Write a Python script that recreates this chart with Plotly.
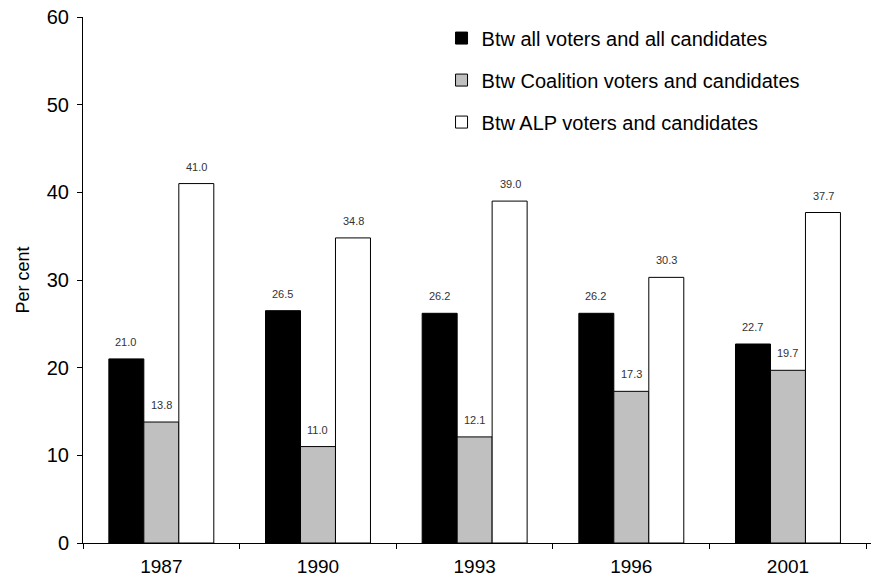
import plotly.graph_objects as go

years = ["1987", "1990", "1993", "1996", "2001"]
all_voters = [21.0, 26.5, 26.2, 26.2, 22.7]
coalition = [13.8, 11.0, 12.1, 17.3, 19.7]
alp = [41.0, 34.8, 39.0, 30.3, 37.7]

series = [
    ("Btw all voters and all candidates", all_voters, "#000000"),
    ("Btw Coalition voters and candidates", coalition, "#c0c0c0"),
    ("Btw ALP voters and candidates", alp, "#ffffff"),
]

fig = go.Figure()
for i, (name, vals, color) in enumerate(series):
    fig.add_trace(go.Bar(
        x=years, y=vals, name=name, legendgroup=f"g{i}",
        marker=dict(color=color, line=dict(color="#000000", width=1)),
    ))

# value labels above each bar (x given as category index)
n = len(series)
for i, (name, vals, color) in enumerate(series):
    for j, v in enumerate(vals):
        fig.add_annotation(
            x=j, y=v, text=f"{v:.1f}", showarrow=False,
            xref="x", yref="y", yanchor="bottom", yshift=9,
            xshift=(i - (n - 1) / 2) * 35.5,
            font=dict(family="Liberation Sans, Arial", size=11, color="#333333"),
        )

fig.update_layout(
    width=871, height=586,
    margin=dict(l=83, r=0, t=17, b=43),
    paper_bgcolor="white", plot_bgcolor="white",
    barmode="group", bargap=0.33, bargroupgap=0,
    font=dict(family="Liberation Sans, Arial", size=16, color="#000000"),
    showlegend=True,
    legend=dict(
        x=0.455, y=0.997, xanchor="left", yanchor="top",
        font=dict(size=20), tracegroupgap=13,
        bgcolor="rgba(0,0,0,0)", itemwidth=30,
    ),
)
fig.update_xaxes(
    type="category",
    showline=True, linecolor="#000000", linewidth=1,
    ticks="outside", tickson="boundaries", ticklen=5, tickcolor="#000000",
    range=[-0.5, 4.53], showgrid=False,
    tickfont=dict(size=19), ticklabelstandoff=6,
)
fig.update_yaxes(
    range=[0, 60], dtick=10, showline=True, linecolor="#000000", linewidth=1,
    ticks="outside", ticklen=5, tickcolor="#000000", showgrid=False, zeroline=False,
    title=dict(text="Per cent", font=dict(size=18), standoff=12),
    tickfont=dict(size=20), ticklabelstandoff=4,
)

fig.write_html("out.html")
